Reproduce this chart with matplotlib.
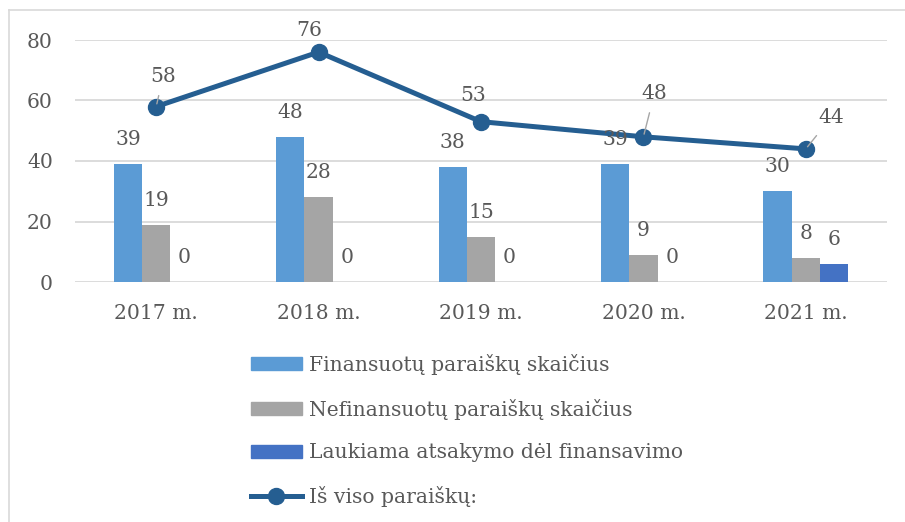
import numpy as np
import matplotlib.pyplot as plt
from matplotlib.lines import Line2D
from matplotlib.patches import Patch

# Applications per year
years = ["2017 m.", "2018 m.", "2019 m.", "2020 m.", "2021 m."]
funded = [39, 48, 38, 39, 30]
unfunded = [19, 28, 15, 9, 8]
pending = [0, 0, 0, 0, 6]
total = [58, 76, 53, 48, 44]

series_names = ["Finansuotų paraiškų skaičius",
                "Nefinansuotų paraiškų skaičius",
                "Laukiama atsakymo dėl finansavimo",
                "Iš viso paraiškų:"]

c_funded = "#5B9BD5"
c_unfunded = "#A5A5A5"
c_pending = "#4472C4"
c_total = "#255E91"
c_text = "#595959"
c_grid = "#D9D9D9"

fs = 14.6
plt.rcParams["font.family"] = "DejaVu Serif"
plt.rcParams["font.size"] = fs

W, H = 905, 522
fig = plt.figure(figsize=(W / 100, H / 100), dpi=100)
ax = fig.add_axes([75 / W, 1 - 282 / H, 812 / W, 242 / H])

x = np.arange(len(years))
bw = 0.174
ax.bar(x - bw, funded, bw, color=c_funded, zorder=2)
ax.bar(x, unfunded, bw, color=c_unfunded, zorder=2)
ax.bar(x + bw, pending, bw, color=c_pending, zorder=2)
ax.plot(x, total, color=c_total, lw=3.6, marker="o", ms=11.5,
        solid_capstyle="round", zorder=3)

ax.set_xlim(-0.5, len(years) - 0.5)
ax.set_ylim(0, 80)
ax.set_yticks(range(0, 81, 20))
ax.set_xticks(x)
ax.set_xticklabels(years)
ax.tick_params(length=0, colors=c_text, labelsize=fs)
ax.tick_params(axis="y", pad=16)
ax.tick_params(axis="x", pad=15.5)
ax.grid(axis="y", color=c_grid, lw=1.3, zorder=0)
ax.set_axisbelow(True)
for s in ax.spines.values():
    s.set_visible(False)

# value labels above each bar
for offs, vals in ((-bw, funded), (0, unfunded), (bw, pending)):
    for xi, v in zip(x, vals):
        ax.annotate(str(v), (xi + offs, v), xytext=(0, 17.5),
                    textcoords="offset points", ha="center", va="center",
                    color=c_text, fontsize=fs, annotation_clip=False)

# labels for the total line, some with leader lines
total_offsets = [(5, 21.6), (-6.5, 15.8), (-5.4, 18.7), (7.9, 31), (18, 22.3)]
leader = [True, False, False, True, True]
for xi, v, off, ld in zip(x, total, total_offsets, leader):
    props = None
    if ld:
        props = dict(arrowstyle="-", color="#A6A6A6", lw=1.0,
                     shrinkA=5, shrinkB=2)
    ax.annotate(str(v), (xi, v), xytext=off, textcoords="offset points",
                ha="center", va="center", color=c_text, fontsize=fs,
                arrowprops=props, annotation_clip=False, zorder=4)

handles = [Patch(color=c_funded), Patch(color=c_unfunded),
           Patch(color=c_pending),
           Line2D([], [], color=c_total, lw=3.6, marker="o", ms=11.5)]
fig.legend(handles, series_names, loc="upper left",
           bbox_to_anchor=(251 / W, 1 - 354 / H), frameon=False,
           borderpad=0, borderaxespad=0, handlelength=2.5,
           handleheight=0.6, handletextpad=0.35, labelspacing=1.17,
           labelcolor=c_text, fontsize=fs)

# outer chart border
fig.add_artist(Line2D([9 / W, 1], [1 - 10 / H, 1 - 10 / H], color=c_grid, lw=1.2))
fig.add_artist(Line2D([9 / W, 9 / W], [0, 1 - 10 / H], color=c_grid, lw=1.2))

fig.savefig("out.png", dpi=100)
